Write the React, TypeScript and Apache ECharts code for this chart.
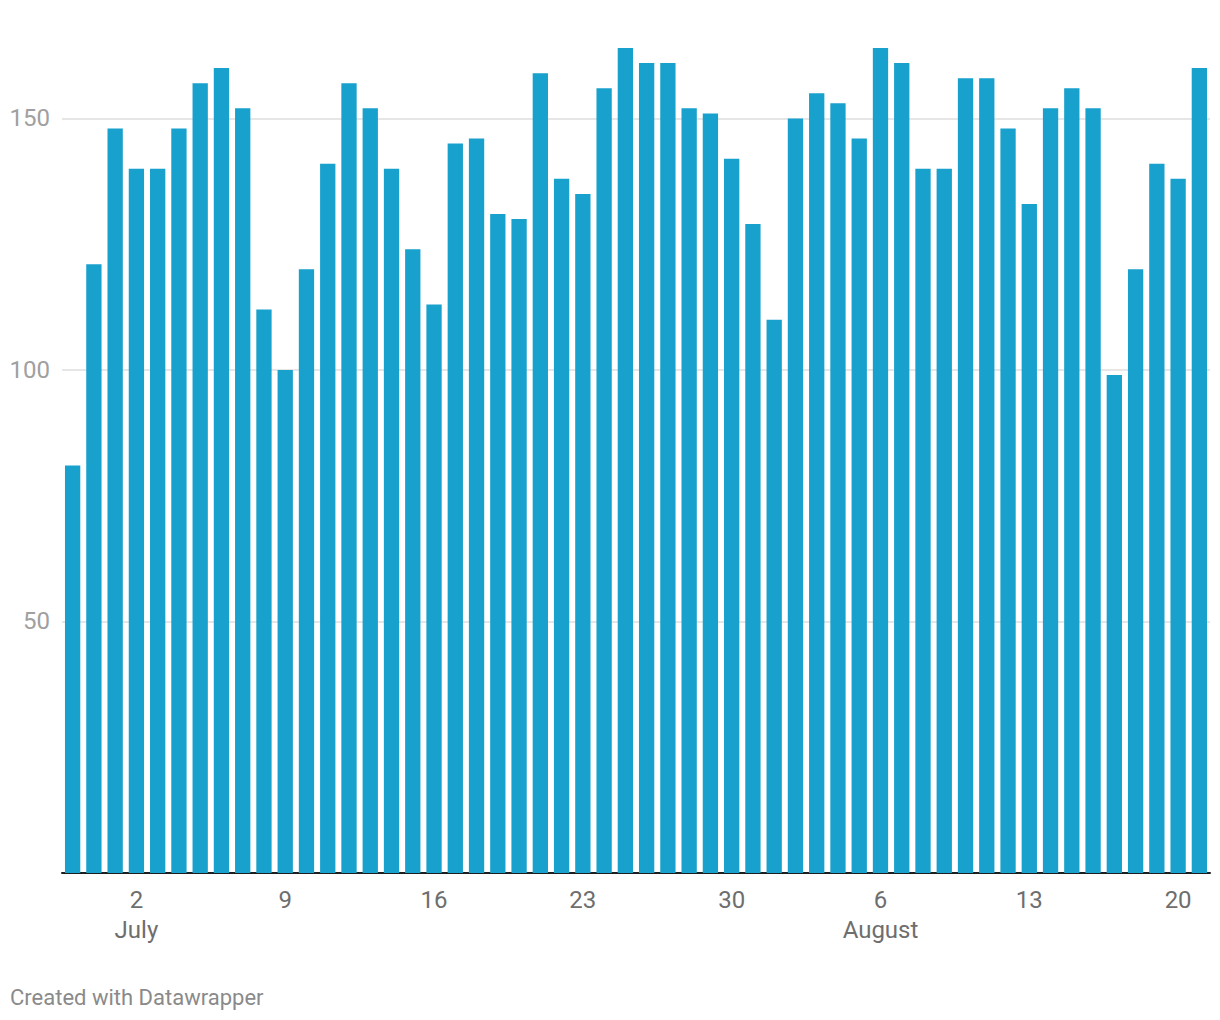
import React, { useEffect, useRef } from "react";
import * as echarts from "echarts";

// Daily values, 29 June – 21 August
const days: string[] = [
  "29", "30",
  "1", "2", "3", "4", "5", "6", "7", "8", "9", "10", "11", "12", "13", "14", "15", "16",
  "17", "18", "19", "20", "21", "22", "23", "24", "25", "26", "27", "28", "29", "30", "31",
  "1", "2", "3", "4", "5", "6", "7", "8", "9", "10", "11", "12", "13", "14", "15", "16",
  "17", "18", "19", "20", "21",
];
const months: string[] = [
  "June", "June",
  ...Array(31).fill("July"),
  ...Array(21).fill("August"),
];
const values: number[] = [
  81, 121, 148, 140, 140, 148, 157, 160, 152, 112, 100, 120, 141, 157, 152, 140, 124, 113,
  145, 146, 131, 130, 159, 138, 135, 156, 164, 161, 161, 152, 151, 142, 129, 110, 150, 155,
  153, 146, 164, 161, 140, 140, 158, 158, 148, 133, 152, 156, 152, 99, 120, 141, 138, 160,
];
const yTicks: number[] = [50, 100, 150];
const monthLabelDays: string[] = ["2", "6"]; // first labelled tick of each month

const categories = days.map((d, i) => `${months[i]} ${d}`);

export default function App() {
  const ref = useRef<HTMLDivElement>(null);
  useEffect(() => {
    if (!ref.current) return;
    const chart = echarts.init(ref.current, undefined, { renderer: "svg" });
    const seenMonth: Record<string, boolean> = {};
    chart.setOption({
      animation: false,
      backgroundColor: "#ffffff",
      title: {
        text: "Created with Datawrapper",
        left: 10,
        top: 986,
        padding: 0,
        textStyle: {
          fontFamily: "Roboto",
          fontSize: 22,
          fontWeight: "normal",
          color: "#8a8a8a",
        },
      },
      grid: { left: 62, right: 10, top: 48, bottom: 147, containLabel: false },
      xAxis: {
        type: "category",
        data: categories,
        axisTick: { show: false },
        axisLine: { show: true, lineStyle: { color: "#1d1d1d", width: 2 } },
        axisLabel: {
          interval: (index: number) => (index - 3) % 7 === 0,
          margin: 12,
          fontFamily: "Roboto",
          fontSize: 24,
          lineHeight: 30,
          color: "#6e6e6e",
          formatter: (val: string) => {
            const [m, d] = val.split(" ");
            if (!seenMonth[m] && monthLabelDays.includes(d)) {
              seenMonth[m] = true;
              return `${d}\n${m}`;
            }
            return d;
          },
        },
        splitLine: { show: false },
      },
      yAxis: {
        type: "value",
        min: 0,
        max: Math.max(...values),
        interval: 50,
        axisLine: { show: false },
        axisTick: { show: false },
        axisLabel: {
          margin: 12,
          fontFamily: "Roboto",
          fontSize: 24,
          color: "#a0a0a0",
          formatter: (v: number) => (yTicks.includes(v) ? String(v) : ""),
        },
        splitLine: {
          show: true,
          lineStyle: {
            width: 2,
            color: ["transparent", "#e6e6e6", "#e6e6e6", "#e6e6e6", "transparent"],
          },
        },
      },
      series: [
        {
          type: "bar",
          data: values,
          barCategoryGap: "28%",
          itemStyle: { color: "#18a1cd" },
        },
      ],
    });
    return () => chart.dispose();
  }, []);
  return (
    <div
      ref={ref}
      style={{ position: "absolute", left: 0, top: 0, width: 1220, height: 1020 }}
    />
  );
}
